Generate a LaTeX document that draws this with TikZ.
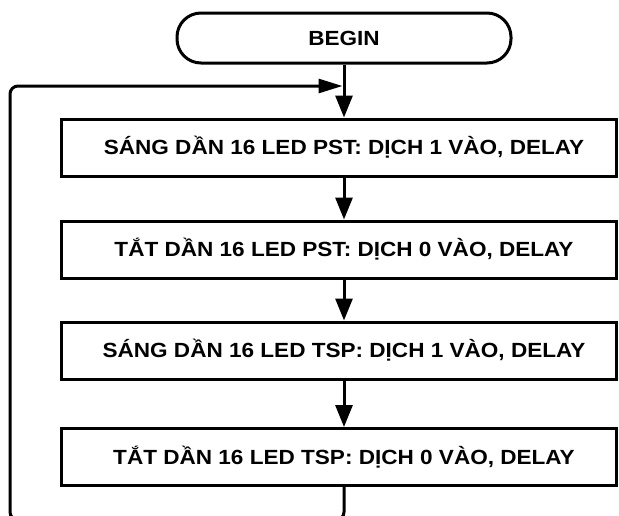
\documentclass[tikz,border=0pt]{standalone}
\usepackage{fontspec}
\setmainfont{Liberation Sans}[FakeStretch=1.1]
\usetikzlibrary{arrows.meta}
\tikzset{
  flow/.style={line width=3pt},
  startbox/.style={draw, line width=3pt, rounded corners=24pt, minimum width=334pt, minimum height=50pt, inner sep=0pt},
  procbox/.style={draw, line width=3pt, minimum width=555pt, minimum height=57pt, inner sep=0pt},
  txt/.style={font=\fontsize{20.5}{24}\selectfont\bfseries, inner sep=0pt},
  vtip/.style={-{Triangle[length=22pt,width=17pt]}},
  htip/.style={-{Triangle[length=24pt,width=14pt]}},
}
\begin{document}
\begin{tikzpicture}[x=1pt,y=-1pt]
\useasboundingbox (0,0) rectangle (619,515);
\node[startbox] (begin) at (344,38) {};
\node[txt] (begint) at (344,38) {BEGIN};
\node[procbox] (b1) at (338.5,147.5) {};
\node[procbox] (b2) at (338.5,249.5) {};
\node[procbox] (b3) at (338.5,350.5) {};
\node[procbox] (b4) at (338.5,457) {};
\node[txt] (t1) at (344,147.5) {SÁNG DẦN 16 LED PST: DỊCH 1 VÀO, DELAY};
\node[txt] (t2) at (344,249.5) {TẮT DẦN 16 LED PST: DỊCH 0 VÀO, DELAY};
\node[txt] (t3) at (344,350.5) {SÁNG DẦN 16 LED TSP: DỊCH 1 VÀO, DELAY};
\node[txt] (t4) at (344,457) {TẮT DẦN 16 LED TSP: DỊCH 0 VÀO, DELAY};
\coordinate (join) at (344,86);
\coordinate (bl) at (10,520);
\coordinate (tl) at (10,86);
\draw[flow,vtip] (begin.south) -- (b1.north -| begin.south);
\draw[flow,vtip] (b1.south -| begin.south) -- (b2.north -| begin.south);
\draw[flow,vtip] (b2.south -| begin.south) -- (b3.north -| begin.south);
\draw[flow,vtip] (b3.south -| begin.south) -- (b4.north -| begin.south);
\draw[flow,htip,rounded corners=8pt] (b4.south -| begin.south) -- (bl -| begin.south) -- (bl) -- (tl) -- ([xshift=-1.5pt]join);
\end{tikzpicture}
\end{document}
